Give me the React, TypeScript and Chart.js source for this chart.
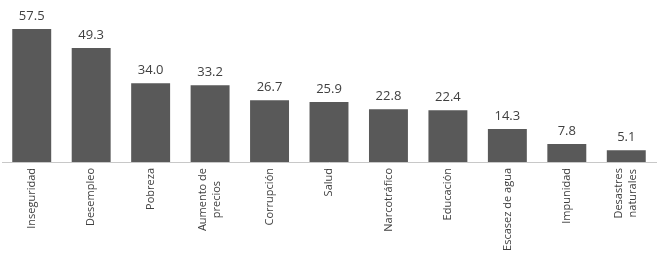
import React, { useEffect, useRef } from "react";
import { Chart, registerables } from "chart.js";

Chart.register(...registerables);

const categories: (string | string[])[] = [
  "Inseguridad",
  "Desempleo",
  "Pobreza",
  ["Aumento de", "precios"],
  "Corrupción",
  "Salud",
  "Narcotráfico",
  "Educación",
  "Escasez de agua",
  "Impunidad",
  ["Desastres", "naturales"],
];

const values: number[] = [57.5, 49.3, 34.0, 33.2, 26.7, 25.9, 22.8, 22.4, 14.3, 7.8, 5.1];

const valueLabels: string[] = values.map((v) => v.toFixed(1));

const valueLabelPlugin = {
  id: "valueLabels",
  afterDatasetsDraw(chart: any) {
    const ctx = chart.ctx;
    const meta = chart.getDatasetMeta(0);
    ctx.save();
    ctx.font = "13px 'Open Sans'";
    ctx.fillStyle = "#404040";
    ctx.textAlign = "center";
    ctx.textBaseline = "alphabetic";
    meta.data.forEach((bar: any, i: number) => {
      ctx.fillText(valueLabels[i], bar.x, bar.y - 9);
    });
    ctx.restore();
  },
};

const categoryLabelPlugin = {
  id: "categoryLabels",
  afterDraw(chart: any) {
    const ctx = chart.ctx;
    const xScale = chart.scales.x;
    const top = chart.chartArea.bottom + 6;
    const lineH = 14;
    ctx.save();
    ctx.font = "11px 'Open Sans'";
    ctx.fillStyle = "#404040";
    ctx.textBaseline = "middle";
    categories.forEach((cat, i) => {
      const lines = Array.isArray(cat) ? cat : [cat];
      const x = xScale.getPixelForValue(i);
      const widths = lines.map((l) => ctx.measureText(l).width);
      const maxW = Math.max(...widths);
      ctx.save();
      ctx.translate(x, top);
      ctx.rotate(-Math.PI / 2);
      const n = lines.length;
      lines.forEach((line, j) => {
        const offset = (j - (n - 1) / 2) * lineH;
        ctx.textAlign = "center";
        ctx.fillText(line, -maxW / 2, offset);
      });
      ctx.restore();
    });
    ctx.restore();
  },
};

export default function App() {
  const canvasRef = useRef<HTMLCanvasElement | null>(null);

  useEffect(() => {
    if (!canvasRef.current) return;
    const chart = new Chart(canvasRef.current, {
      type: "bar",
      data: {
        labels: categories,
        datasets: [
          {
            data: values,
            backgroundColor: "#595959",
            borderWidth: 0,
            barPercentage: 0.655,
            categoryPercentage: 1,
          },
        ],
      },
      options: {
        animation: false,
        responsive: false,
        maintainAspectRatio: false,
        layout: { padding: { left: 2, right: 4, top: 0, bottom: 0 } },
        plugins: {
          legend: { display: false },
          tooltip: { enabled: false },
        },
        scales: {
          x: {
            grid: { display: false },
            border: { display: true, color: "#c8c8c8", width: 1 },
            ticks: { display: false },
            afterFit: (scale: any) => {
              scale.height = 99;
            },
          },
          y: {
            display: false,
            min: 0,
            max: 70,
          },
        },
      },
      plugins: [valueLabelPlugin, categoryLabelPlugin],
    });
    return () => chart.destroy();
  }, []);

  return (
    <div style={{ position: "fixed", left: 0, top: 0, width: 660, height: 261, background: "#fff" }}>
      <canvas ref={canvasRef} width={660} height={261} style={{ width: 660, height: 261, display: "block" }} />
    </div>
  );
}
